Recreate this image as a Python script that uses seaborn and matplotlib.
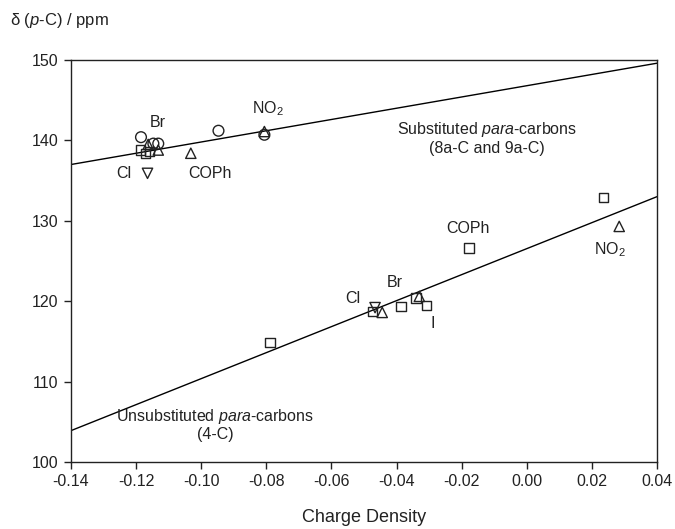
import matplotlib
matplotlib.use("Agg")
import matplotlib.pyplot as plt
import seaborn as sns
import pandas as pd

sns.set_theme(style="ticks")
plt.rcParams['font.family'] = ['Liberation Sans', 'DejaVu Sans']
plt.rcParams['mathtext.fontset'] = 'custom'
plt.rcParams['mathtext.rm'] = 'Liberation Sans'
plt.rcParams['mathtext.it'] = 'Liberation Sans:italic'

# ---- data: substituted para-carbons (8a-C and 9a-C) ----
sub_circle_x = [-0.1185, -0.1147, -0.1132, -0.0947, -0.0806]
sub_circle_y = [140.4, 139.6, 139.6, 141.2, 140.7]
sub_tri_up_x = [-0.1163, -0.1132, -0.1032, -0.0806]
sub_tri_up_y = [139.5, 138.8, 138.4, 141.1]
sub_square_x = [-0.1186, -0.1171, -0.1158]
sub_square_y = [138.8, 138.4, 138.6]
sub_tri_dn_x = [-0.1165]
sub_tri_dn_y = [135.9]

# ---- data: unsubstituted para-carbons (4-C) ----
uns_square_x = [-0.0789, -0.0474, -0.0386, -0.0340, -0.0307, -0.0177, 0.0235]
uns_square_y = [114.9, 118.7, 119.3, 120.4, 119.5, 126.6, 132.9]
uns_tri_up_x = [-0.0444, -0.0330, 0.0284]
uns_tri_up_y = [118.6, 120.6, 129.3]
uns_tri_dn_x = [-0.0466]
uns_tri_dn_y = [119.2]

# ---- regression lines (endpoints) ----
line_x = [-0.14, 0.04]
upper_line_y = [137.0, 149.6]
lower_line_y = [103.9, 133.0]

x_ticks = [-0.14, -0.12, -0.10, -0.08, -0.06, -0.04, -0.02, 0.00, 0.02, 0.04]
y_ticks = [100, 110, 120, 130, 140, 150]

fig = plt.figure(figsize=(6.75, 5.29), dpi=100)
ax = fig.add_axes([0.1052, 0.1267, 0.8681, 0.7599])

sns.lineplot(x=line_x, y=upper_line_y, ax=ax, color='black', lw=1.0)
sns.lineplot(x=line_x, y=lower_line_y, ax=ax, color='black', lw=1.0)

groups = [
    (sub_circle_x, sub_circle_y, 'o', 60),
    (sub_tri_up_x, sub_tri_up_y, '^', 55),
    (sub_square_x, sub_square_y, 's', 45),
    (sub_tri_dn_x, sub_tri_dn_y, 'v', 55),
    (uns_square_x, uns_square_y, 's', 45),
    (uns_tri_up_x, uns_tri_up_y, '^', 55),
    (uns_tri_dn_x, uns_tri_dn_y, 'v', 55),
]
for gx, gy, m, s in groups:
    df = pd.DataFrame({'x': gx, 'y': gy})
    sns.scatterplot(data=df, x='x', y='y', ax=ax, marker=m, s=s,
                    facecolor='none', edgecolor='#222222', linewidth=1.0, zorder=3)

fs = 11.5
tc = '#222222'
ax.text(-0.1133, 142.2, 'Br', ha='center', va='center', fontsize=fs, color=tc)
ax.text(-0.0795, 144.0, r'NO$_2$', ha='center', va='center', fontsize=fs, color=tc)
ax.text(-0.1237, 135.9, 'Cl', ha='center', va='center', fontsize=fs, color=tc)
ax.text(-0.0973, 135.9, 'COPh', ha='center', va='center', fontsize=fs, color=tc)
ax.text(-0.0122, 141.4, r'Substituted $\it{para}$-carbons', ha='center', va='center', fontsize=fs, color=tc)
ax.text(-0.0122, 139.05, '(8a-C and 9a-C)', ha='center', va='center', fontsize=fs, color=tc)
ax.text(-0.0180, 129.1, 'COPh', ha='center', va='center', fontsize=fs, color=tc)
ax.text(0.0256, 126.4, r'NO$_2$', ha='center', va='center', fontsize=fs, color=tc)
ax.text(-0.0405, 122.3, 'Br', ha='center', va='center', fontsize=fs, color=tc)
ax.text(-0.0534, 120.3, 'Cl', ha='center', va='center', fontsize=fs, color=tc)
ax.text(-0.0288, 117.2, 'I', ha='center', va='center', fontsize=fs, color=tc)
ax.text(-0.0958, 105.7, r'Unsubstituted $\it{para}$-carbons', ha='center', va='center', fontsize=fs, color=tc)
ax.text(-0.0958, 103.4, '(4-C)', ha='center', va='center', fontsize=fs, color=tc)

ax.set_xlim(-0.14, 0.04)
ax.set_ylim(100, 150)
ax.set_xticks(x_ticks)
ax.set_xticklabels([f'{t:.2f}' for t in x_ticks])
ax.set_yticks(y_ticks)
ax.tick_params(axis='both', direction='out', length=5, width=1.0, labelsize=11.5,
               colors='#222222', pad=4)
for sp in ax.spines.values():
    sp.set_visible(True)
    sp.set_color('#222222')
    sp.set_linewidth(1.0)

ax.set_xlabel('Charge Density', fontsize=13, color='#222222', labelpad=14)
ax.set_ylabel('')
fig.text(0.015, 0.962, r'δ ($\it{p}$-C) / ppm', fontsize=12, color='#222222',
         ha='left', va='center')

fig.savefig('out.png', dpi=100)
